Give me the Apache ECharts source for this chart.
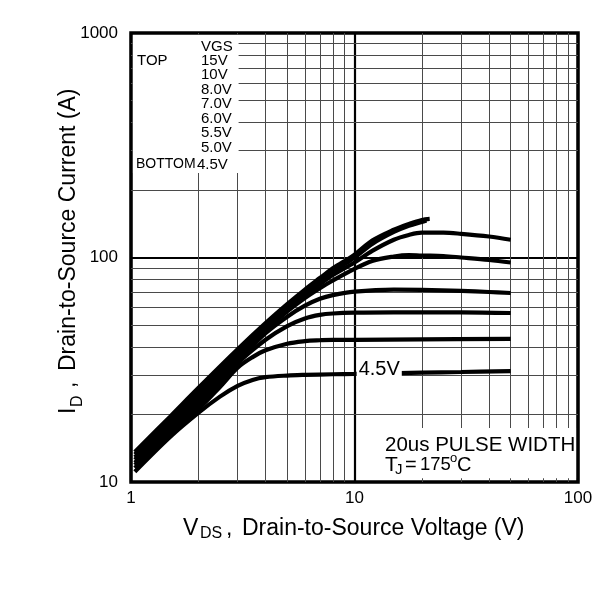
<!DOCTYPE html>
<html><head><meta charset="utf-8">
<script src="https://cdn.jsdelivr.net/npm/echarts@6/dist/echarts.min.js"></script>
<style>html,body{margin:0;padding:0;background:#fff}#c{width:606px;height:600px}</style>
</head><body><div id="c"></div>
<script>
// ---- data ----
const xTickValues = [1, 10, 100];
const yTickValues = [10, 100, 1000];
const xMinor = [2, 3, 4, 5, 6, 7, 8, 9, 20, 30, 40, 50, 60, 70, 80, 90];
const yMinor = [20, 30, 40, 50, 60, 70, 80, 90, 200, 300, 400, 500, 600, 700, 800, 900];
const vgsNames = ['15V', '10V', '8.0V', '7.0V', '6.0V', '5.5V', '5.0V', '4.5V'];
const legendRows = ['VGS', '15V', '10V', '8.0V', '7.0V', '6.0V', '5.5V', '5.0V', '4.5V'];

const vgs15 = [[1.04,13.6],[1.5,19.6],[2,26.2],[3,39],[4,51],[5,62],[6,72],[7,81],[8,89.5],[10,103],[12,119],[15,133],[17.5,141],[20,147],[21.7,148.5]];
const vgs10 = [[1.04,13.25],[1.5,19.0],[2,25.3],[3,37.6],[4,49.5],[5,60.5],[6,70],[7,78.5],[8,86.5],[10,100],[12,115],[15,130],[17.5,138.5],[20,144],[21,146]];
const vgs8  = [[1.04,12.9],[1.5,18.5],[2,24.4],[3,36.3],[4,48.3],[5,59],[6,68],[7,76],[8,83.5],[10,95],[12,107],[15,120],[17.5,126],[20,129],[25,129],[30,127.5],[40,124],[50,120]];
const vgs7  = [[1.04,12.55],[1.5,18.0],[2,23.5],[3,35.4],[4,47.2],[5,57.5],[6,66],[7,73],[8,79],[10,89],[12,96.5],[15,101],[17.5,102.5],[20,102],[25,101.5],[30,100],[40,97.5],[50,95]];
const vgs6  = [[1.04,12.2],[1.5,17.5],[2,22.7],[3,34.6],[4,46],[5,54.5],[6,61],[7,65.5],[8,68],[10,70.5],[15,72],[20,71.8],[30,71],[40,70.2],[50,69.5]];
const vgs55 = [[1.04,11.9],[1.5,17.0],[2,21.9],[3,33.8],[4,43],[5,49.5],[6,53.5],[7,55.5],[8,56.3],[10,56.8],[15,57],[20,57],[30,57],[50,56.6]];
const vgs5  = [[1.04,11.55],[1.5,16.5],[2,21.1],[2.5,26.5],[3,32.3],[3.5,36],[4,38.6],[5,41.3],[6,42.4],[7,42.8],[8,43],[10,43],[20,43.2],[50,43.4]];
const vgs45 = [[1.04,11.1],[1.5,15.9],[2,20.3],[2.5,24],[3,26.8],[3.5,28.5],[4,29.3],[5,29.8],[6,30],[8,30.2],[10,30.3],[20,30.7],[30,30.9],[50,31.2]];
const curves = [vgs15, vgs10, vgs8, vgs7, vgs6, vgs55, vgs5, vgs45];

// white panels behind the two text blocks, in data coordinates [x0, y0, x1, y1]
const panels = [[1.02, 238, 3.03, 980], [13, 10.4, 98, 17.4]];

const FONT = '"Liberation Sans", Arial, Helvetica, sans-serif';

const chart = echarts.init(document.getElementById('c'), null, {renderer: 'canvas'});

const curveSeries = curves.map((d, i) => {
  const s = {
    name: vgsNames[i], type: 'line', data: d, z: 3,
    symbol: 'none', smooth: 0.35, silent: true,
    lineStyle: {color: '#000', width: 4.2}
  };
  if (vgsNames[i] === '4.5V') {
    s.markPoint = {
      silent: true, symbol: 'rect', symbolSize: 0, z: 6,
      label: {show: true, position: 'inside', formatter: '4.5V', color: '#000',
        fontFamily: FONT, fontSize: 20, backgroundColor: '#fff', padding: [0, 2], offset: [0, -4]},
      data: [{coord: [12.9, 30.4]}]
    };
  }
  return s;
});

function txt(t, x, y, size, extra) {
  return Object.assign({type: 'text', x: x, y: y, z: 20,
    style: {text: t, font: size + 'px ' + FONT, fill: '#000', textAlign: 'left', textVerticalAlign: 'middle', verticalAlign: 'middle'}}, extra || {});
}

const legendGraphics = [];
const rowY = [46.7, 61, 75.3, 90, 104.3, 118.7, 133.3, 147.7, 164.5];
legendRows.forEach((t, i) => {
  legendGraphics.push(txt(t, (i === 8 ? 197 : 201), rowY[i], 15));
});
legendGraphics.push(txt('TOP', 137, 61, 15));
legendGraphics.push(txt('BOTTOM', 136, 164.5, 14));

const annotation = [
  txt('20us PULSE WIDTH', 385, 445, 20.5),
  txt('T', 385, 465, 21),
  txt('J', 395, 470, 15),
  txt('=', 405, 465, 20),
  txt('175', 420, 465, 18.5),
  txt('o', 450, 458, 13),
  txt('C', 457, 465, 20)
];

const xTitle = [
  txt('V', 183, 528.5, 23),
  txt('DS', 200, 534, 16),
  txt(',', 226, 528.5, 23),
  txt('Drain-to-Source Voltage (V)', 242, 528.5, 23)
];

const yTitle = {
  type: 'group', x: 69, y: 414, rotation: Math.PI / 2, z: 20,
  children: [
    txt('I', 0, 0, 23),
    txt('D', 7, 9, 16),
    txt(',', 26, 0, 23),
    txt('Drain-to-Source Current (A)', 43, 0, 23)
  ]
};

const option = {
  animation: false,
  backgroundColor: '#fff',
  grid: {left: 131, right: 28, top: 33, bottom: 118, show: true, borderColor: '#000', borderWidth: 3.5, backgroundColor: 'transparent'},
  xAxis: {
    type: 'log', logBase: 10, min: xTickValues[0], max: xTickValues[xTickValues.length - 1],
    axisLine: {show: false}, axisTick: {show: false},
    axisLabel: {fontFamily: FONT, fontSize: 17, color: '#000', margin: 8, formatter: v => String(Math.round(v))},
    splitLine: {show: true, lineStyle: {color: '#000', width: 2.2}}
  },
  yAxis: {
    type: 'log', logBase: 10, min: yTickValues[0], max: yTickValues[yTickValues.length - 1],
    axisLine: {show: false}, axisTick: {show: false},
    axisLabel: {fontFamily: FONT, fontSize: 17, color: '#000', margin: 13, formatter: v => String(Math.round(v))},
    splitLine: {show: true, lineStyle: {color: '#000', width: 2.2}}
  },
  series: [
    {
      name: 'minorGrid', type: 'line', data: [], z: 1, silent: true,
      markLine: {
        silent: true, z: 1, symbol: ['none', 'none'], label: {show: false}, animation: false,
        lineStyle: {color: '#4a4a4a', width: 1, type: 'solid'},
        emphasis: {disabled: true},
        data: xMinor.map(v => ({xAxis: v})).concat(yMinor.map(v => ({yAxis: v})))
      }
    },
    {
      name: 'panels', type: 'custom', z: 2, silent: true, clip: false,
      data: panels,
      encode: {x: [0, 2], y: [1, 3]},
      renderItem: function (params, api) {
        const a = api.coord([api.value(0), api.value(1)]);
        const b = api.coord([api.value(2), api.value(3)]);
        return {
          type: 'rect',
          shape: {x: Math.min(a[0], b[0]), y: Math.min(a[1], b[1]), width: Math.abs(b[0] - a[0]), height: Math.abs(b[1] - a[1])},
          style: {fill: '#fff', stroke: null, lineWidth: 0}
        };
      }
    }
  ].concat(curveSeries),
  graphic: legendGraphics.concat(annotation, xTitle, [yTitle])
};
chart.setOption(option);
</script>
</body></html>
